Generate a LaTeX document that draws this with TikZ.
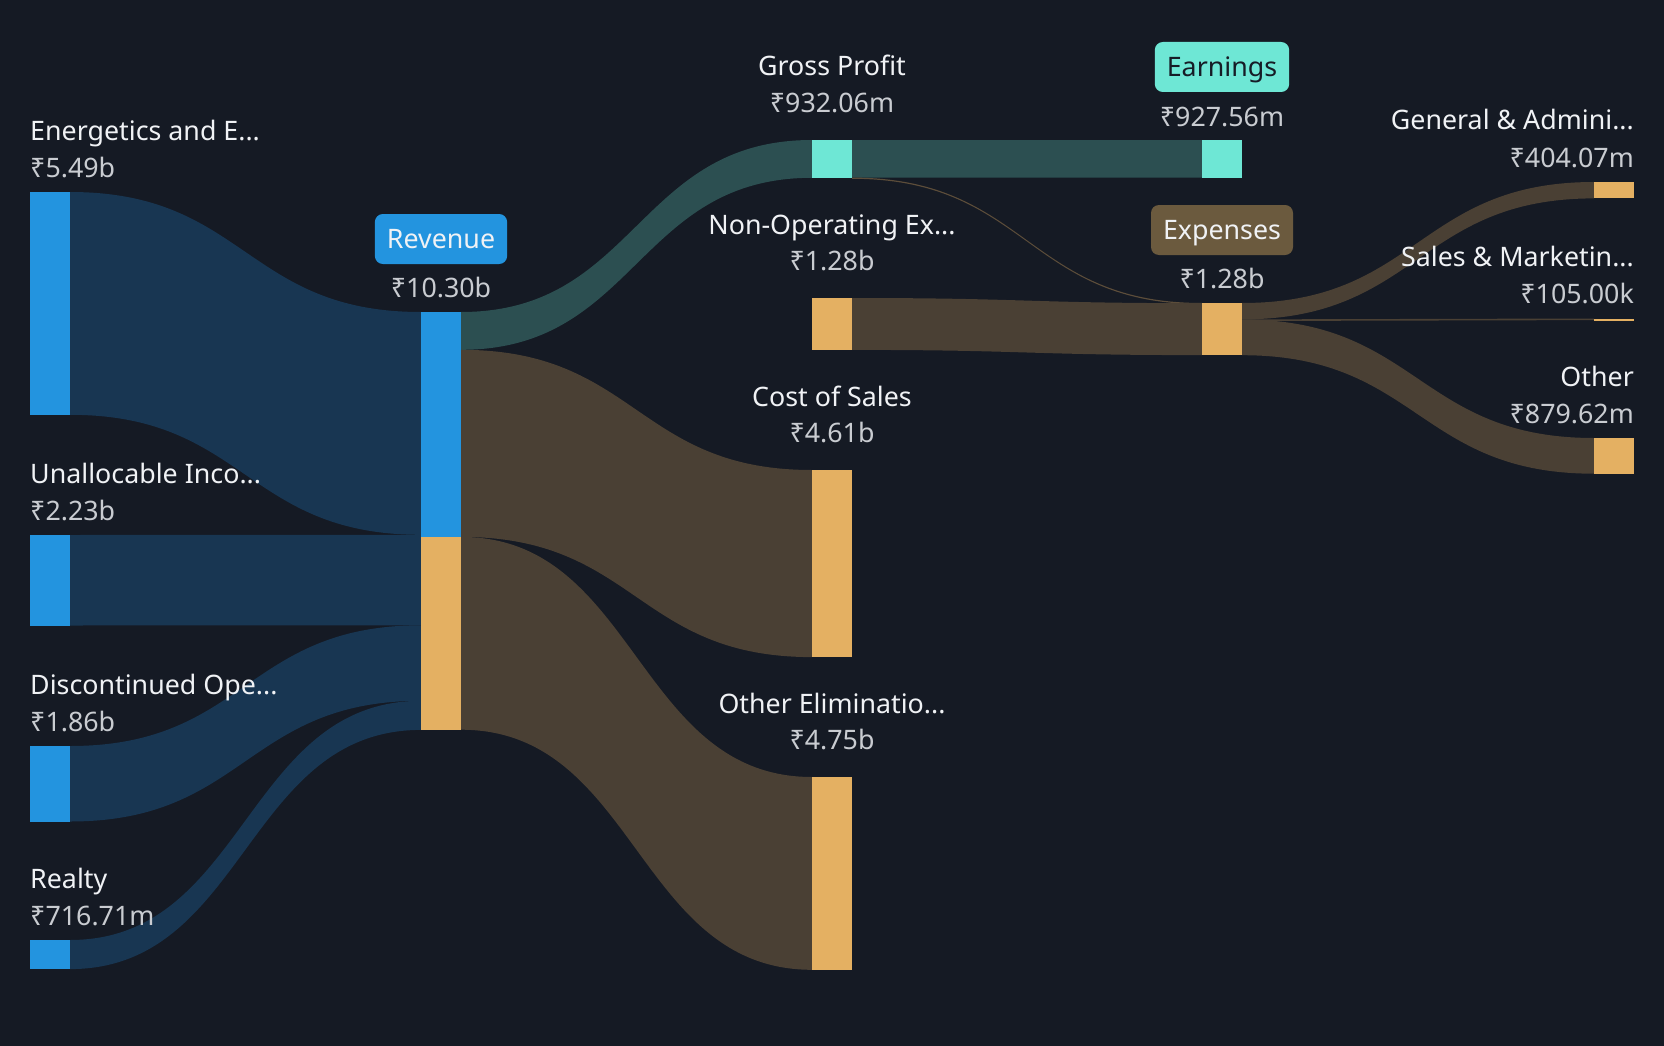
\documentclass[tikz,border=0pt]{standalone}
\usepackage{fontspec}
\setmainfont{Noto Sans}
\usepackage{tikz}
\usetikzlibrary{calc}
\usetikzlibrary{positioning}
\usepackage{xcolor}
\definecolor{bgnavy}{RGB}{21,26,36}
\definecolor{segblue}{RGB}{35,148,223}
\definecolor{segbluedark}{RGB}{24,54,82}
\definecolor{profitteal}{RGB}{110,231,213}
\definecolor{profittealdark}{RGB}{44,79,81}
\definecolor{costorange}{RGB}{228,176,98}
\definecolor{costbrown}{RGB}{74,64,52}
\definecolor{costthin}{RGB}{92,77,58}
\definecolor{expensetag}{RGB}{107,90,62}
\definecolor{labelwhite}{RGB}{240,242,245}
\definecolor{valuegrey}{RGB}{201,204,209}
\definecolor{tagdark}{RGB}{22,28,38}
\newcommand{\widthbar}{40pt}
\newcommand{\sizelabel}{\fontsize{26.8}{32}\selectfont}
% band from (source, offset) to (target, offset), with width and style
\newcommand{\band}[6]{%
    \fill[#6] let \p1=($(#1.north east)+(0,#2)$), \p2=($(#3.north west)+(0,#4)$) in
        (\p1) .. controls ({(\x1+\x2)/2},\y1) and ({(\x1+\x2)/2},\y2) .. (\p2)
        -- (\x2,{\y2-#5pt})
        .. controls ({(\x1+\x2)/2},{\y2-#5pt}) and ({(\x1+\x2)/2},{\y1-#5pt}) .. (\x1,{\y1-#5pt})
        -- cycle;
}
\pgfdeclarelayer{flows}
\pgfsetlayers{flows,main}
\tikzset{
    bar/.style={anchor=north west, inner sep=0pt, outer sep=0pt, minimum width=\widthbar},
    segbar/.style={bar, fill=segblue},
    profitbar/.style={bar, fill=profitteal},
    costbar/.style={bar, fill=costorange},
    labtitle/.style={inner sep=0pt, font=\sizelabel, text=labelwhite},
    labamount/.style={inner sep=0pt, font=\sizelabel, text=valuegrey},
    labtag/.style={anchor=center, rounded corners=8pt, inner xsep=12pt, text height=19pt, text depth=0pt, minimum height=50pt, font=\sizelabel, yshift=73pt},
    segflow/.style={segbluedark},
    profitflow/.style={profittealdark},
    costflow/.style={costbrown},
    thinflow/.style={costthin},
}
\begin{document}
\begin{tikzpicture}[x=1pt, y=-1pt]
    \useasboundingbox (0,0) rectangle (1664,1046);
    \begin{pgfonlayer}{flows}
        \fill[bgnavy] (0,0) rectangle (1664,1046);
    \end{pgfonlayer}

    \node[segbar, minimum height=222.8pt,
        label={[labamount, name=energ-v, anchor=base west, yshift=14.5pt]north west:₹5.49b},
        label={[labtitle, name=energ-n, anchor=base west, yshift=52pt]north west:Energetics and E...}] (energ) at (30,192) {};
    \node[segbar, minimum height=90.5pt,
        label={[labamount, name=unalloc-v, anchor=base west, yshift=14.5pt]north west:₹2.23b},
        label={[labtitle, name=unalloc-n, anchor=base west, yshift=52pt]north west:Unallocable Inco...}] (unalloc) at (30,535) {};
    \node[segbar, minimum height=75.5pt,
        label={[labamount, name=discont-v, anchor=base west, yshift=14.5pt]north west:₹1.86b},
        label={[labtitle, name=discont-n, anchor=base west, yshift=52pt]north west:Discontinued Ope...}] (discont) at (30,746) {};
    \node[segbar, minimum height=29.1pt,
        label={[labamount, name=realty-v, anchor=base west, yshift=14.5pt]north west:₹716.71m},
        label={[labtitle, name=realty-n, anchor=base west, yshift=52pt]north west:Realty}] (realty) at (30,940) {};

    \node[segbar, minimum height=224.9pt,
        label={[labamount, name=rev-v, anchor=base, yshift=14.5pt]north:₹10.30b},
        label={[labtag, fill=segblue, text=labelwhite, name=rev-tag]north:Revenue}] (rev) at (421,312) {};
    \node[costbar, minimum height=192.8pt] (revlow) at (421,536.9) {};

    \node[profitbar, minimum height=37.8pt,
        label={[labamount, name=gross-v, anchor=base, yshift=27.5pt]north:₹932.06m},
        label={[labtitle, name=gross-n, anchor=base, yshift=64pt]north:Gross Profit}] (gross) at (812,140) {};
    \node[costbar, minimum height=51.9pt,
        label={[labamount, name=nonop-v, anchor=base, yshift=27.5pt]north:₹1.28b},
        label={[labtitle, name=nonop-n, anchor=base, yshift=64pt]north:Non-Operating Ex...}] (nonop) at (812,298) {};
    \node[costbar, minimum height=187.1pt,
        label={[labamount, name=cos-v, anchor=base, yshift=27.5pt]north:₹4.61b},
        label={[labtitle, name=cos-n, anchor=base, yshift=64pt]north:Cost of Sales}] (cos) at (812,470) {};
    \node[costbar, minimum height=192.8pt,
        label={[labamount, name=othelim-v, anchor=base, yshift=27.5pt]north:₹4.75b},
        label={[labtitle, name=othelim-n, anchor=base, yshift=64pt]north:Other Eliminatio...}] (othelim) at (812,777) {};

    \node[profitbar, minimum height=37.6pt,
        label={[labamount, name=earn-v, anchor=base, yshift=13.5pt]north:₹927.56m},
        label={[labtag, fill=profitteal, text=tagdark, name=earn-tag]north:Earnings}] (earn) at (1202,140) {};
    \node[costbar, minimum height=52.1pt,
        label={[labamount, name=expn-v, anchor=base, yshift=14.5pt]north:₹1.28b},
        label={[labtag, fill=expensetag, text=labelwhite, name=expn-tag]north:Expenses}] (expn) at (1202,303) {};

    \node[costbar, minimum height=16.4pt,
        label={[labamount, name=ga-v, anchor=base east, yshift=14.5pt]north east:₹404.07m},
        label={[labtitle, name=ga-n, anchor=base east, yshift=52.5pt]north east:General \& Admini...}] (ga) at (1594,182) {};
    \node[costbar, minimum height=2pt,
        label={[labamount, name=sm-v, anchor=base east, yshift=15.5pt]north east:₹105.00k},
        label={[labtitle, name=sm-n, anchor=base east, yshift=52pt]north east:Sales \& Marketin...}] (sm) at (1594,318.5) {};
    \node[costbar, minimum height=35.7pt,
        label={[labamount, name=other-v, anchor=base east, yshift=14.5pt]north east:₹879.62m},
        label={[labtitle, name=other-n, anchor=base east, yshift=52pt]north east:Other}] (other) at (1594,438) {};

    \begin{pgfonlayer}{flows}
        \band{energ}{0}{rev}{0}{222.8}{segflow}
        \band{unalloc}{0}{rev}{222.8}{90.5}{segflow}
        \band{discont}{0}{rev}{313.3}{75.5}{segflow}
        \band{realty}{0}{rev}{388.8}{29.1}{segflow}
        \band{rev}{0}{gross}{0}{37.8}{profitflow}
        \band{rev}{37.8}{cos}{0}{187.1}{costflow}
        \band{rev}{224.9}{othelim}{0}{192.8}{costflow}
        \band{gross}{0}{earn}{0}{37.6}{profitflow}
        \band{gross}{37.6}{expn}{0}{1.2}{thinflow}
        \band{nonop}{0}{expn}{0.2}{51.9}{costflow}
        \band{expn}{0}{ga}{0}{16.4}{costflow}
        \band{expn}{16.4}{sm}{0}{1.6}{costflow}
        \band{expn}{16.5}{other}{0}{35.7}{costflow}
    \end{pgfonlayer}
\end{tikzpicture}
\end{document}
